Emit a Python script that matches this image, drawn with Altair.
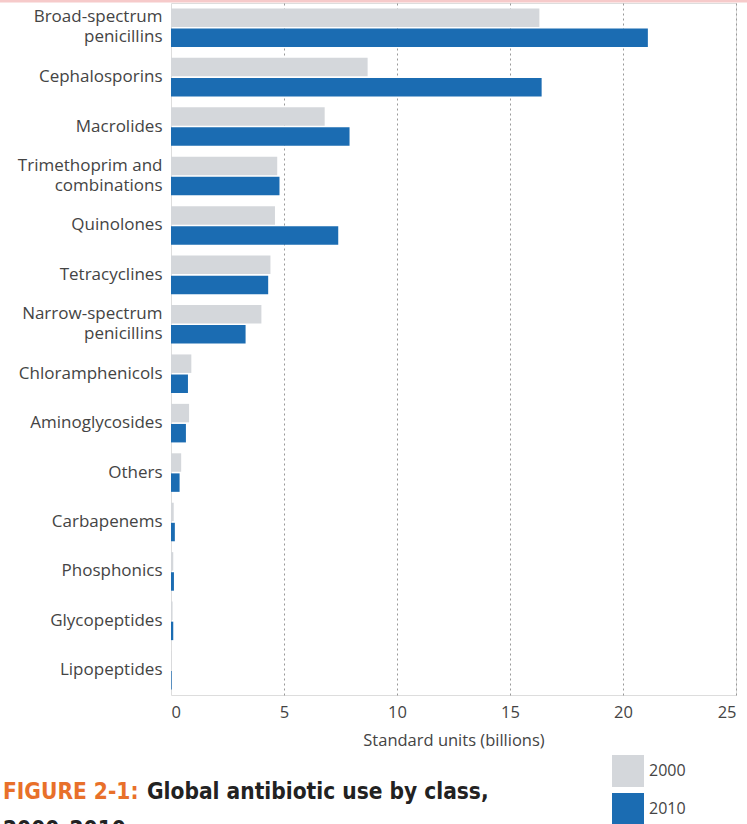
import altair as alt
import pandas as pd

classes = [
    "Broad-spectrum|penicillins", "Cephalosporins", "Macrolides",
    "Trimethoprim and|combinations", "Quinolones", "Tetracyclines",
    "Narrow-spectrum|penicillins", "Chloramphenicols", "Aminoglycosides",
    "Others", "Carbapenems", "Phosphonics", "Glycopeptides", "Lipopeptides",
]
use_2000 = [16.3, 8.7, 6.8, 4.7, 4.6, 4.4, 4.0, 0.9, 0.8, 0.45, 0.12, 0.1, 0.07, 0.02]
use_2010 = [21.1, 16.4, 7.9, 4.8, 7.4, 4.3, 3.3, 0.75, 0.66, 0.38, 0.17, 0.13, 0.1, 0.03]
years = ["2000", "2010"]
x_ticks = [0, 5, 10, 15, 20, 25]

rows = []
for c, a, b in zip(classes, use_2000, use_2010):
    rows.append({"cls": c, "year": years[0], "value": a})
    rows.append({"cls": c, "year": years[1], "value": b})
df = pd.DataFrame(rows)

FONT = "Open Sans"
PLOT_W, PLOT_H = 565, 692

bars = alt.Chart(df).mark_bar(stroke=None).encode(
    y=alt.Y("cls:N", sort=classes,
            scale=alt.Scale(paddingInner=0.22, paddingOuter=0.11),
            axis=alt.Axis(title=None, labelExpr="split(datum.label, '|')",
                          labelFont=FONT, labelFontSize=17, labelColor="#444444",
                          labelLineHeight=20,
                          labelOffset=alt.condition("indexof(datum.value, '|') >= 0",
                                                    alt.value(-10.5), alt.value(0)),
                          labelPadding=9, ticks=False,
                          domain=False, grid=False, labelLimit=300)),
    yOffset=alt.YOffset("year:N", sort=years, scale=alt.Scale(paddingInner=0.08)),
    x=alt.X("value:Q", scale=alt.Scale(domain=[0, 25], nice=False),
            axis=alt.Axis(values=x_ticks, title="Standard units (billions)",
                          titleFont=FONT, titleFontSize=16.5, titleFontWeight="normal",
                          titleColor="#444444", titlePadding=12,
                          labelFont=FONT, labelFontSize=16.5, labelColor="#444444",
                          labelPadding=9, ticks=False, domain=False,
                          grid=True, gridDash=[2, 3], gridColor="#999999",
                          gridOpacity=alt.condition("datum.value == 0", alt.value(0), alt.value(1)))),
    color=alt.Color("year:N", sort=years,
                    scale=alt.Scale(domain=years, range=["#d4d7db", "#1b6cb2"]),
                    legend=alt.Legend(title=None, orient="none", legendX=441, legendY=752,
                                      symbolType="square", symbolSize=1024,
                                      symbolStrokeWidth=0, rowPadding=6,
                                      labelFont=FONT, labelFontSize=16,
                                      labelColor="#444444", labelOffset=5)),
)

title_df = pd.DataFrame({"a": ["FIGURE 2-1:"], "b": ["Global antibiotic use by class,"],
                         "c": ["2000\u20132010"]})
TFONT = "Liberation Sans Narrow, DejaVu Sans Condensed, Roboto, sans-serif"
TSIZE = 22.5
t1 = alt.Chart(title_df).mark_text(font=TFONT, fontSize=TSIZE, fontWeight="bold",
                                   color="#e8702a", align="left", baseline="alphabetic").encode(
    x=alt.value(-168), y=alt.value(796), text="a:N")
t2 = alt.Chart(title_df).mark_text(font=TFONT, fontSize=TSIZE, fontWeight="bold",
                                   color="#222222", align="left", baseline="alphabetic").encode(
    x=alt.value(-24), y=alt.value(796), text="b:N")
t3 = alt.Chart(title_df).mark_text(font=TFONT, fontSize=TSIZE, fontWeight="bold",
                                   color="#222222", align="left", baseline="alphabetic").encode(
    x=alt.value(-168), y=alt.value(834), text="c:N")
topline = alt.Chart(title_df).mark_rule(color="#f6caca", strokeWidth=3).encode(
    x=alt.value(-171), x2=alt.value(576), y=alt.value(-2))

chart = alt.layer(bars, t1, t2, t3, topline).properties(
    width=PLOT_W, height=PLOT_H,
    autosize=alt.AutoSizeParams(type="none"),
    padding={"left": 171, "top": 3, "right": 11, "bottom": 129},
).configure_view(stroke=None).configure(background="white")

chart.save("out.html", embed_options={"renderer": "svg", "actions": False})
